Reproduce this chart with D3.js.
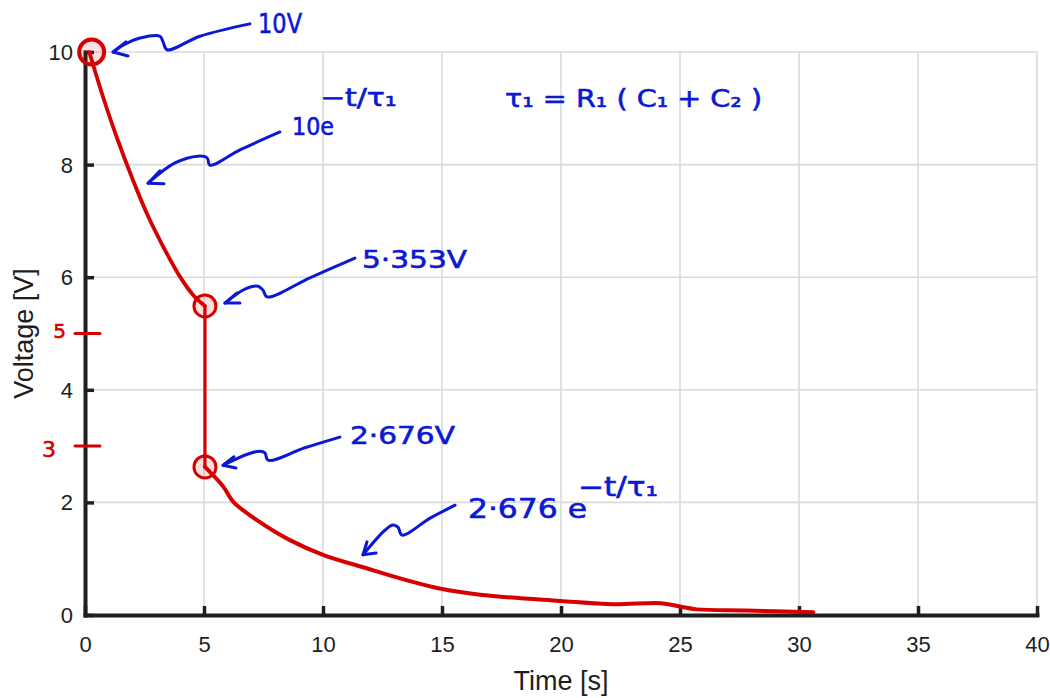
<!DOCTYPE html>
<html>
<head>
<meta charset="utf-8">
<script src="https://cdn.jsdelivr.net/npm/d3@7"></script>
<style>
    body { margin: 0; background: #fff; }
    svg { display: block; }
    .tick text { font-family: "Liberation Sans", Arial, sans-serif; font-size: 22px; fill: #1e1e1e; }
    .label { font-family: "Liberation Sans", Arial, sans-serif; font-size: 27px; fill: #1e1e1e; }
    .hand { font-family: "DejaVu Sans", sans-serif; fill: #0b18d4; stroke: #0b18d4; stroke-width: 0.6; }
    .handred { font-family: "DejaVu Sans", sans-serif; fill: #d60000; stroke: #d60000; stroke-width: 0.6; }
</style>
</head>
<body>
<svg id="chart" width="1050" height="698"></svg>
<script>
// values: time [s], voltage [V]
const xTicks = [0, 5, 10, 15, 20, 25, 30, 35, 40];
const yTicks = [0, 2, 4, 6, 8, 10];
const phase1T = [0.18, 0.76, 1.33, 2.03, 2.59, 3.29, 3.99, 4.55, 5.04];
const phase1V = [10.0, 9.2, 8.49, 7.71, 7.14, 6.54, 6.01, 5.68, 5.49];
const phase2T = [5.04, 5.81, 6.23, 7.21, 8.61, 10.0, 11.83, 13.5, 14.9, 16.6, 19.96, 22.2, 24.2, 25.0, 25.7, 27.8, 30.6];
const phase2V = [2.63, 2.28, 2.01, 1.69, 1.33, 1.07, 0.83, 0.62, 0.47, 0.36, 0.25, 0.19, 0.21, 0.15, 0.10, 0.08, 0.05];
const markerT = [0.28, 5.04, 5.04];
const markerV = [10, 5.49, 2.63];
const redMarks = ['5', '3'];
const redMarkV = [5, 3];

// hand-written notes, anchored in data units
const notes = [
    {text: '10V', t: 7.27, v: 10.34, size: 27, len: 44},
    {text: '10e', t: 8.70, v: 8.53, size: 24, len: 42},
    {text: '\u2212t/\u03c4\u2081', t: 9.87, v: 9.04, size: 24, len: 77},
    {text: '\u03c4\u2081 = R\u2081 ( C\u2081 + C\u2082 )', t: 17.65, v: 9.02, size: 25, len: 257},
    {text: '5\u00b7353V', t: 11.64, v: 6.16, size: 25, len: 105},
    {text: '2\u00b7676V', t: 11.13, v: 3.04, size: 25, len: 105},
    {text: '2\u00b7676 e', t: 16.09, v: 1.72, size: 26, len: 119},
    {text: '\u2212t/\u03c4\u2081', t: 20.71, v: 2.11, size: 26, len: 80}
];
const arrows = [
    {path: [[6.93, 10.50], [4.83, 10.28], [3.45, 10.04], [3.28, 10.18], [3.15, 10.28], [2.31, 10.25], [1.68, 10.14], [1.18, 10.0]],
     head: [[1.72, 10.18], [1.18, 10.0], [1.81, 9.93]]},
    {path: [[8.19, 8.58], [6.51, 8.26], [5.25, 7.99], [5.13, 8.12], [4.75, 8.15], [3.78, 8.03], [2.65, 7.67]],
     head: [[3.15, 7.89], [2.65, 7.67], [3.32, 7.66]]},
    {path: [[11.34, 6.34], [9.45, 5.99], [7.65, 5.65], [7.48, 5.77], [7.27, 5.84], [6.72, 5.79], [5.88, 5.54]],
     head: [[6.39, 5.72], [5.88, 5.54], [6.51, 5.54]]},
    {path: [[10.71, 3.16], [9.24, 2.97], [7.69, 2.75], [7.56, 2.88], [7.35, 2.91], [6.85, 2.86], [5.80, 2.66]],
     head: [[6.26, 2.81], [5.80, 2.66], [6.34, 2.61]]},
    {path: [[15.55, 1.95], [14.50, 1.72], [13.32, 1.42], [13.15, 1.56], [12.94, 1.60], [12.61, 1.51], [11.68, 1.07]],
     head: [[11.85, 1.30], [11.68, 1.07], [12.23, 1.10]]}
];

const svg = d3.select('svg#chart');
const x = d3.scaleLinear().domain([0, 40]).range([85, 1037]);
const y = d3.scaleLinear().domain([0, 10]).range([615, 52]);

// grid
const grid = svg.append('g').attr('id', 'grid')
    .attr('stroke', '#dadada').attr('stroke-width', 1.6);
grid.selectAll('line.gx').data(xTicks.slice(1)).join('line')
    .attr('class', 'gx')
    .attr('x1', d => x(d)).attr('x2', d => x(d))
    .attr('y1', y(0)).attr('y2', y(10));
grid.selectAll('line.gy').data(yTicks.slice(1)).join('line')
    .attr('class', 'gy')
    .attr('x1', x(0)).attr('x2', x(40))
    .attr('y1', d => y(d)).attr('y2', d => y(d));

// axes, ticks pointing inward like matlab
const xAxis = svg.append('g').attr('transform', `translate(0,${y(0)})`)
    .call(d3.axisBottom(x).tickValues(xTicks).tickSizeInner(-9).tickSizeOuter(0).tickPadding(21));
const yAxis = svg.append('g').attr('transform', `translate(${x(0)},0)`)
    .call(d3.axisLeft(y).tickValues(yTicks).tickSizeInner(-9).tickSizeOuter(0).tickPadding(12));
[xAxis, yAxis].forEach(g => {
    g.select('.domain').attr('stroke', '#1f1f1f').attr('stroke-width', 4).attr('stroke-linecap', 'square');
    g.selectAll('.tick line').attr('stroke', '#1f1f1f').attr('stroke-width', 3.5);
    g.selectAll('.tick text').attr('font-size', null).attr('font-family', null);
});
yAxis.selectAll('.tick text').attr('dy', '0.34em');

svg.append('text').attr('class', 'label')
    .attr('x', x(20)).attr('y', 690)
    .attr('text-anchor', 'middle')
    .text('Time [s]');
svg.append('text').attr('class', 'label')
    .attr('transform', `translate(33,${y(5)}) rotate(-90)`)
    .attr('text-anchor', 'middle')
    .text('Voltage [V]');

// red curve: first decay, the drop, second decay
const line = d3.line().x(d => x(d[0])).y(d => y(d[1])).curve(d3.curveCatmullRom.alpha(0.5));
const curve = svg.append('g').attr('fill', 'none').attr('stroke', '#d60000').attr('stroke-linecap', 'round');
curve.append('path')
    .attr('d', line(phase1T.map((t, i) => [t, phase1V[i]])))
    .attr('stroke-width', 3.8);
curve.append('path')
    .attr('d', d3.line().x(d => x(d[0])).y(d => y(d[1]))([[phase1T[phase1T.length - 1], phase1V[phase1V.length - 1]], [phase2T[0], phase2V[0]]]))
    .attr('stroke-width', 3.2);
curve.append('path')
    .attr('d', line(phase2T.map((t, i) => [t, phase2V[i]])))
    .attr('stroke-width', 4);

svg.append('g').selectAll('circle').data(markerT.map((t, i) => [t, markerV[i]])).join('circle')
    .attr('cx', d => x(d[0])).attr('cy', d => y(d[1]))
    .attr('r', (d, i) => i === 0 ? 12.5 : 11)
    .attr('fill', 'rgba(214,0,0,0.12)')
    .attr('stroke', '#d60000')
    .attr('stroke-width', (d, i) => i === 0 ? 4 : 3);

// red pencil marks on the y axis
const red = svg.append('g');
red.selectAll('line').data(redMarkV).join('line')
    .attr('x1', x(-0.42)).attr('x2', x(0.63))
    .attr('y1', d => y(d)).attr('y2', d => y(d))
    .attr('stroke', '#d60000').attr('stroke-width', 3).attr('stroke-linecap', 'round');
red.selectAll('text').data(redMarks).join('text')
    .attr('class', 'handred')
    .attr('x', (d, i) => x(i === 0 ? -0.80 : -1.22))
    .attr('y', (d, i) => y(i === 0 ? 4.92 : 2.81))
    .attr('text-anchor', 'end')
    .attr('font-size', (d, i) => i === 0 ? 20 : 22)
    .text(d => d);

// blue notes and arrows
const blue = svg.append('g');
blue.selectAll('text').data(notes).join('text')
    .attr('class', 'hand')
    .attr('x', d => x(d.t)).attr('y', d => y(d.v))
    .attr('font-size', d => d.size)
    .attr('textLength', d => d.len)
    .attr('lengthAdjust', 'spacingAndGlyphs')
    .text(d => d.text);
const aline = d3.line().x(d => x(d[0])).y(d => y(d[1])).curve(d3.curveCatmullRom.alpha(0.5));
const arr = blue.selectAll('g.arrow').data(arrows).join('g')
    .attr('class', 'arrow')
    .attr('fill', 'none').attr('stroke', '#0b18d4')
    .attr('stroke-width', 3).attr('stroke-linecap', 'round').attr('stroke-linejoin', 'round');
arr.append('path').attr('d', d => aline(d.path));
arr.append('path').attr('d', d => d3.line().x(p => x(p[0])).y(p => y(p[1]))(d.head));
</script>
</body>
</html>
